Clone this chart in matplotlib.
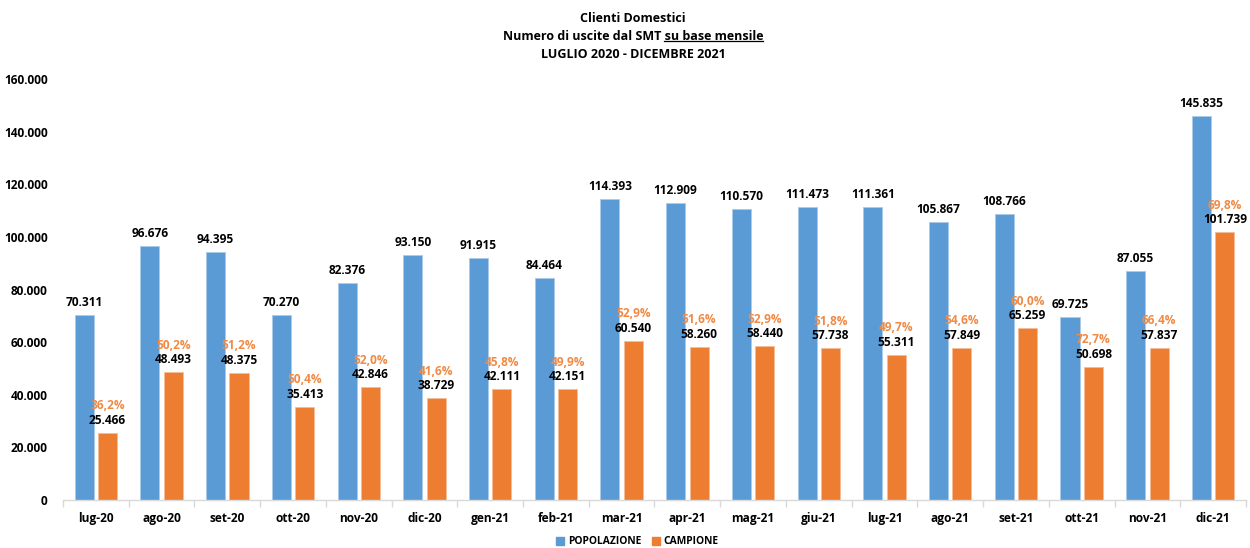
import matplotlib
matplotlib.use("Agg")
import matplotlib.pyplot as plt
from matplotlib.ticker import FixedLocator, FuncFormatter
from matplotlib.lines import Line2D
import numpy as np

plt.rcParams['font.family'] = ['Open Sans', 'DejaVu Sans']
plt.rcParams['font.weight'] = 'bold'

months = ["lug-20", "ago-20", "set-20", "ott-20", "nov-20", "dic-20", "gen-21", "feb-21",
          "mar-21", "apr-21", "mag-21", "giu-21", "lug-21", "ago-21", "set-21", "ott-21",
          "nov-21", "dic-21"]
popolazione = [70311, 96676, 94395, 70270, 82376, 93150, 91915, 84464, 114393, 112909,
               110570, 111473, 111361, 105867, 108766, 69725, 87055, 145835]
campione = [25466, 48493, 48375, 35413, 42846, 38729, 42111, 42151, 60540, 58260,
            58440, 57738, 55311, 57849, 65259, 50698, 57837, 101739]

BLUE = "#5B9BD5"
ORANGE = "#ED7D31"
PCT_COLOR = "#F08A45"
FS = 8.6

def it_num(v):
    return f"{int(round(v)):,}".replace(",", ".")

fig = plt.figure(figsize=(12.5, 5.48), dpi=100)
ax = fig.add_axes([0.0504, 0.0876, 0.9464, 0.768])

x = np.arange(len(months))
w = 0.29
off = 0.178
ax.bar(x - off, popolazione, width=w, color=BLUE, edgecolor="#A9CBEA", linewidth=0.6, zorder=2)
ax.bar(x + off, campione, width=w, color=ORANGE, edgecolor="#F6BD97", linewidth=0.6, zorder=2)

for xi, p, c in zip(x, popolazione, campione):
    ax.annotate(it_num(p), (xi - off, p), xytext=(0, 9), textcoords="offset points",
                ha="center", va="center", fontsize=FS, fontweight="bold", color="black")
    ax.annotate(it_num(c), (xi + off, c), xytext=(0, 9), textcoords="offset points",
                ha="center", va="center", fontsize=FS, fontweight="bold", color="black")
    pct = f"{c / p * 100:.1f}%".replace(".", ",")
    ax.annotate(pct, (xi + off, c), xytext=(0, 19.5), textcoords="offset points",
                ha="center", va="center", fontsize=FS, fontweight="bold", color=PCT_COLOR)

ax.set_xlim(-0.5, len(months) - 0.5)
ax.set_ylim(0, 160000)
ax.yaxis.set_major_locator(FixedLocator(np.arange(0, 160001, 20000)))
ax.yaxis.set_major_formatter(FuncFormatter(lambda v, _: it_num(v)))
ax.tick_params(axis="y", length=0, pad=11, labelsize=FS)

ax.set_xticks(x)
ax.set_xticklabels(months, fontsize=FS, fontweight="bold")
ax.set_xticks(np.arange(-0.5, len(months)), minor=True)
ax.tick_params(axis="x", which="major", length=0, pad=9)
ax.tick_params(axis="x", which="minor", length=5, color="#D9D9D9", width=1)

for s in ("top", "right", "left"):
    ax.spines[s].set_visible(False)
ax.spines["bottom"].set_color("#D9D9D9")
ax.spines["bottom"].set_linewidth(1)

# Title block
cx = 633 / 1250
TFS = 9
fig.text(cx, 1 - 18 / 548, "Clienti Domestici", ha="center", va="center", fontsize=TFS, fontweight="bold")
fig.text(cx, 1 - 55 / 548, "LUGLIO 2020 - DICEMBRE 2021", ha="center", va="center", fontsize=TFS, fontweight="bold")
line2 = fig.text(cx, 1 - 37 / 548, "Numero di uscite dal SMT su base mensile", ha="center", va="center",
                 fontsize=TFS, fontweight="bold")
fig.canvas.draw()
r = fig.canvas.get_renderer()
bb = line2.get_window_extent(r)
probe = fig.text(bb.x1 / 1250, 1 - 37 / 548, "su base mensile", ha="right", va="center",
                 fontsize=TFS, fontweight="bold", alpha=0)
pb = probe.get_window_extent(r)
uy = (bb.y0 + 2.5) / 548
fig.add_artist(Line2D([pb.x0 / 1250, pb.x1 / 1250], [uy, uy], transform=fig.transFigure,
                      color="black", linewidth=0.9))

handles = [Line2D([], [], marker="s", linestyle="none", markersize=6, color=BLUE),
           Line2D([], [], marker="s", linestyle="none", markersize=6, color=ORANGE)]
fig.legend(handles, ["POPOLAZIONE", "CAMPIONE"], loc="center", bbox_to_anchor=(637 / 1250, 1 - 542 / 548),
           ncol=2, frameon=False, handletextpad=0.25, columnspacing=0.9, handlelength=1.0,
           prop={"weight": "bold", "size": 7.4})

fig.savefig("out.png", dpi=100)
